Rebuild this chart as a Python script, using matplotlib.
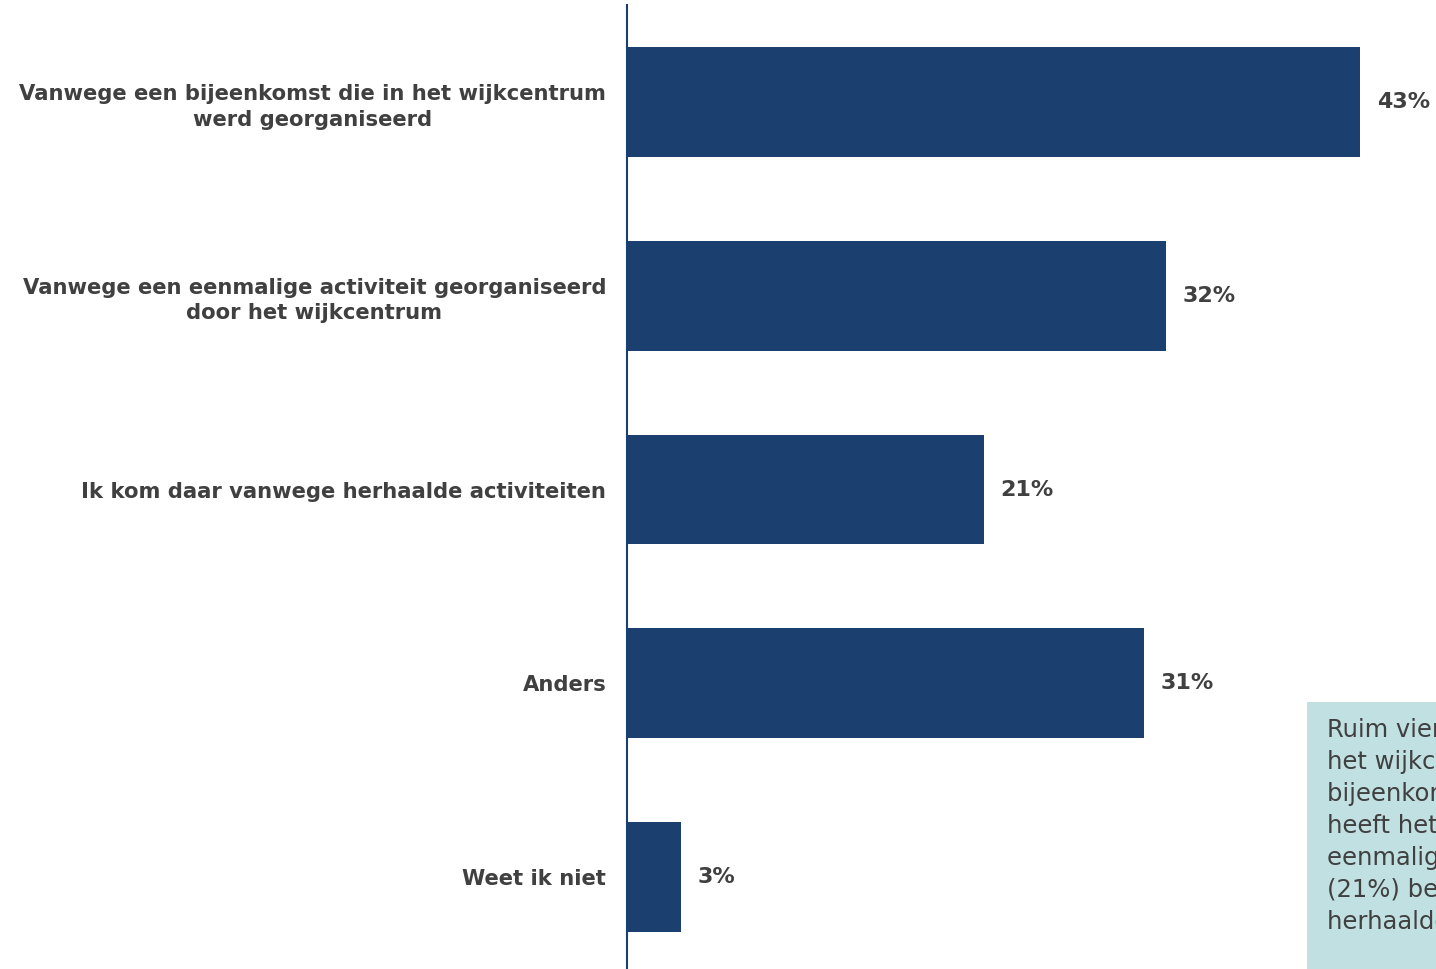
import matplotlib.pyplot as plt
from matplotlib.patches import Rectangle

categories = [
    "Vanwege een bijeenkomst die in het wijkcentrum\nwerd georganiseerd",
    "Vanwege een eenmalige activiteit georganiseerd\ndoor het wijkcentrum",
    "Ik kom daar vanwege herhaalde activiteiten",
    "Anders",
    "Weet ik niet",
]
values = [43.4, 31.9, 21.1, 30.6, 3.2]
value_labels = ["43%", "32%", "21%", "31%", "3%"]

note_lines = [
    "Ruim vier op de tien (43%) bezocht",
    "het wijkcentrum vanwege een",
    "bijeenkomst. Ongeveer een derde",
    "heeft het wijkcentrum bezocht voor een",
    "eenmalige activiteit. Een vijfde",
    "(21%) bezoekt het wijkcentrum vanwege",
    "herhaalde activiteiten.",
]

navy = "#1b3f6e"
grey = "#404040"

plt.rcParams['font.family'] = ['DejaVu Sans']

fig = plt.figure(figsize=(14.36, 9.69), dpi=100)
ax = fig.add_axes([627 / 1436, 0, 1 - 627 / 1436, 964 / 969])

ypos = list(range(len(values)))
ax.barh(ypos, values, height=0.567, color=navy)
ax.set_xlim(0, 809 / 16.9)
ax.set_ylim(4.474, -0.5)

for y, v, lab in zip(ypos, values, value_labels):
    ax.annotate(lab, (v, y), xytext=(12, 0), textcoords="offset points",
                ha="left", va="center", fontsize=16, fontweight="bold", color=grey)

ax.set_yticks(ypos)
ax.set_yticklabels(categories, fontsize=15.2, fontweight="bold", color=grey,
                   multialignment="center", linespacing=1.35)
ax.tick_params(axis="y", length=0, pad=15)
ax.set_xticks([])
for s in ["top", "right", "bottom"]:
    ax.spines[s].set_visible(False)
ax.spines["left"].set_color(navy)
ax.spines["left"].set_linewidth(1.5)

# note box on the right, cut off by the figure edge
fig.patches.append(Rectangle((1307 / 1436, 0), 0.2, (969 - 702) / 969,
                             transform=fig.transFigure, facecolor="#c0e0e1",
                             edgecolor="none", zorder=0))
for i, line in enumerate(note_lines):
    fig.text(1327 / 1436, 1 - (730 + 32 * i) / 969, line, fontsize=17.5,
             color=grey, ha="left", va="center")

fig.savefig("out.png", dpi=100)
